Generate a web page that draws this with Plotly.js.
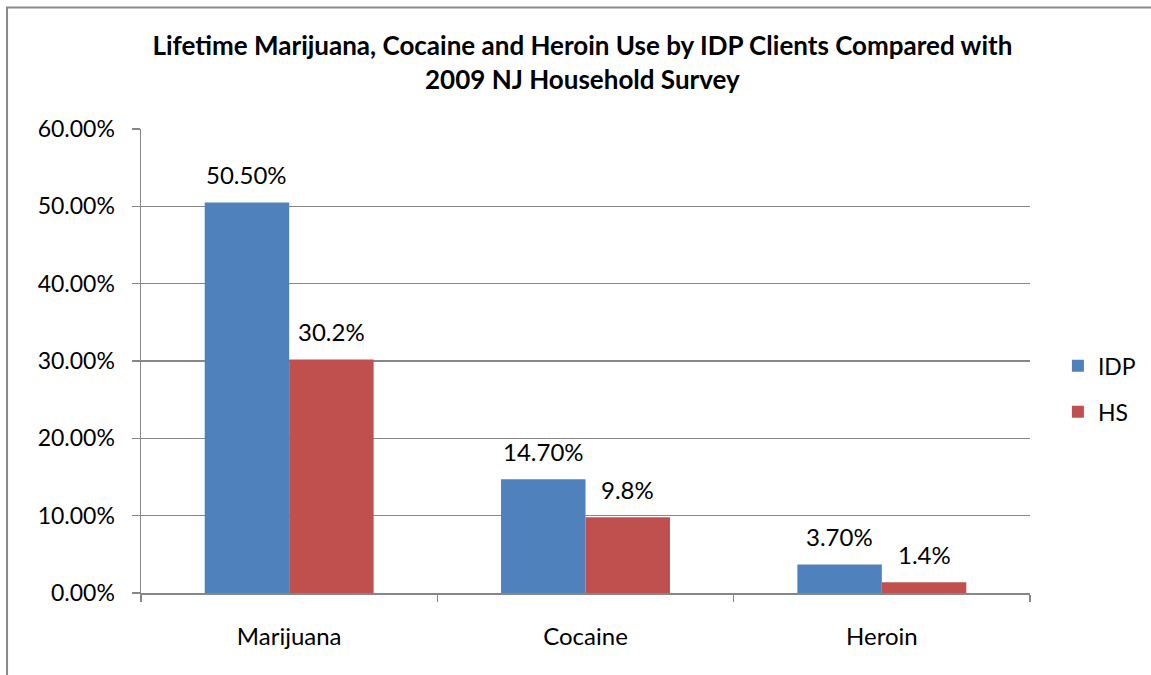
<!DOCTYPE html>
<html>
<head>
<meta charset="utf-8">
<script src="https://cdn.plot.ly/plotly-3.0.1.min.js"></script>
<style>html,body{margin:0;padding:0;background:#fff;}#chart{width:1151px;height:675px;}</style>
</head>
<body>
<div id="chart"></div>
<script>
const categories = ["Marijuana", "Cocaine", "Heroin"];
const idpValues = [0.505, 0.147, 0.037];
const hsValues = [0.302, 0.098, 0.014];
const idpLabels = ["50.50%", "14.70%", "3.70%"];
const hsLabels = ["30.2%", "9.8%", "1.4%"];
const seriesNames = ["IDP", "HS"];
const yTickVals = [0, 0.1, 0.2, 0.3, 0.4, 0.5, 0.6];
const yTickText = ["0.00%", "10.00%", "20.00%", "30.00%", "40.00%", "50.00%", "60.00%"];

const FONT = "Lato, 'Open Sans', sans-serif";
const blue = "#4F81BD", red = "#C0504D", gridc = "#878787";

const traces = [
  {type: "bar", name: seriesNames[0], x: categories, y: idpValues, marker: {color: blue}, legendgroup: "a", hoverinfo: "none"},
  {type: "bar", name: seriesNames[1], x: categories, y: hsValues, marker: {color: red}, legendgroup: "b", hoverinfo: "none"}
];

const annotations = [];
categories.forEach((c, j) => {
  annotations.push({x: c, y: idpValues[j], xref: "x", yref: "y", text: idpLabels[j], showarrow: false, xshift: -42.3, yshift: 28, yanchor: "middle", font: {family: FONT, size: 24, color: "#000"}});
  annotations.push({x: c, y: hsValues[j], xref: "x", yref: "y", text: hsLabels[j], showarrow: false, xshift: 42.3, yshift: 28, yanchor: "middle", font: {family: FONT, size: 24, color: "#000"}});
});

const layout = {
  width: 1151, height: 675,
  margin: {l: 141, r: 121, t: 128.5, b: 82, pad: 0, autoexpand: false},
  paper_bgcolor: "#fff", plot_bgcolor: "#fff",
  font: {family: FONT, size: 23, color: "#000"},
  title: {text: "<b>Lifetime Marijuana, Cocaine and Heroin Use by IDP Clients Compared with<br>2009 NJ Household Survey</b>", x: 0.506, xanchor: "center", y: 0.9185, yanchor: "middle", font: {family: FONT, size: 26, color: "#000"}},
  barmode: "group", bargap: 0.43, bargroupgap: 0,
  showlegend: true,
  legend: {x: 1.0314, xanchor: "left", y: 0.44, yanchor: "middle", traceorder: "grouped", tracegroupgap: 13, font: {family: FONT, size: 23, color: "#000"}, bgcolor: "rgba(0,0,0,0)", itemwidth: 30},
  xaxis: {type: "category", showline: true, linecolor: gridc, linewidth: 1.5, ticks: "outside", tickson: "boundaries", ticklen: 7, tickcolor: gridc, tickwidth: 1.5, ticklabelstandoff: 22, showgrid: false, zeroline: false, tickfont: {family: FONT, size: 24, color: "#000"}, fixedrange: true},
  yaxis: {range: [0, 0.6], tickvals: yTickVals, ticktext: yTickText, showline: true, linecolor: gridc, linewidth: 1.5, ticks: "outside", ticklen: 8, tickcolor: gridc, tickwidth: 1.5, ticklabelstandoff: 12, showgrid: true, gridcolor: gridc, gridwidth: 1.2, zeroline: false, tickfont: {family: FONT, size: 23, color: "#000"}, fixedrange: true},
  annotations: annotations,
  shapes: [{type: "rect", xref: "paper", yref: "paper", x0: -0.1507, x1: 1.3, y0: -0.3, y1: 1.2616, line: {color: "#8a8a8a", width: 2}, fillcolor: "rgba(0,0,0,0)", layer: "below"}]
};

Plotly.newPlot("chart", traces, layout, {displayModeBar: false, staticPlot: true});
</script>
</body>
</html>
